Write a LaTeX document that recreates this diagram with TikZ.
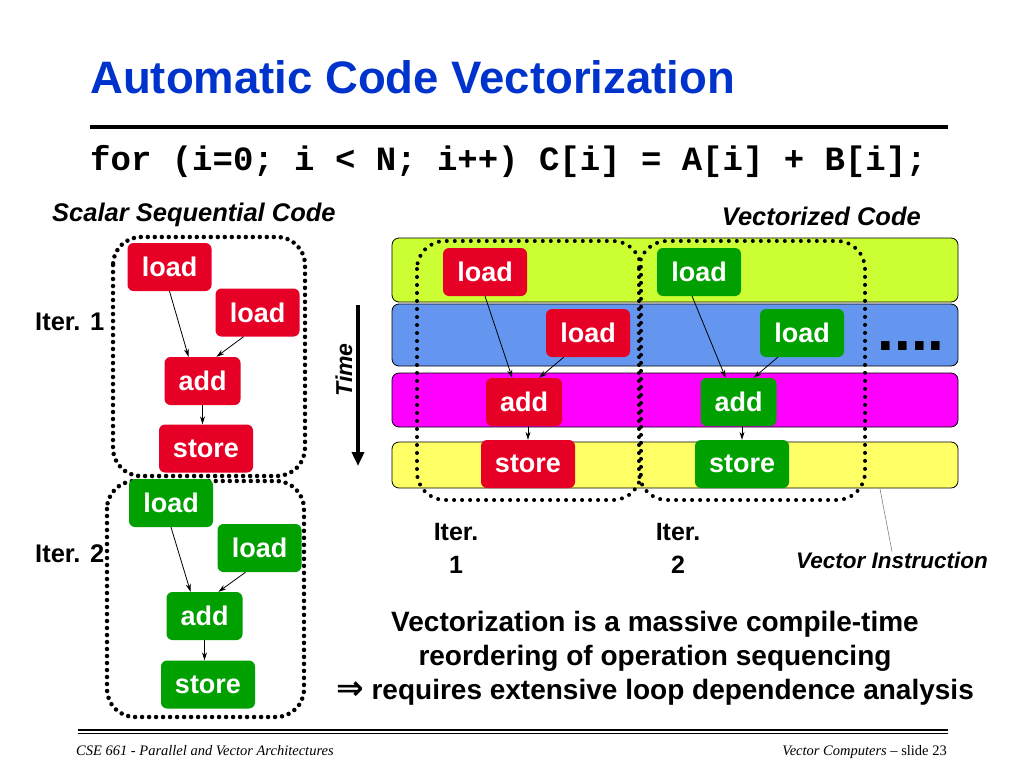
\documentclass[tikz,border=0pt]{standalone}
\usepackage{fontspec}
\setmainfont{Liberation Sans}
\setmonofont{Liberation Mono}
\newfontfamily\footfont{Liberation Serif}
\newfontfamily\arrowfont{DejaVu Sans}
\usetikzlibrary{arrows.meta}
\definecolor{titleblue}{RGB}{0,51,204}
\definecolor{opred}{RGB}{230,0,38}
\definecolor{opgreen}{RGB}{0,160,0}
\definecolor{bandlime}{RGB}{204,255,51}
\definecolor{bandblue}{RGB}{100,150,240}
\definecolor{bandmagenta}{RGB}{255,0,255}
\definecolor{bandyellow}{RGB}{255,255,102}
\newcommand{\fsz}[1]{\fontsize{#1}{#1}\selectfont}
\begin{document}
\begin{tikzpicture}[x=1pt,y=-1pt,
  op/.style={rounded corners=6pt,inner sep=0pt,minimum height=48pt,text=white,font=\fsz{27}\bfseries},
  ld/.style={op,minimum width=84pt},
  ad/.style={op,minimum width=76pt},
  st/.style={op,minimum width=94pt},
  redop/.style={fill=opred},
  greenop/.style={fill=opgreen},
  band/.style={draw=black,line width=0.8pt,rounded corners=7pt},
  iterbox/.style={line width=4.5pt,dash pattern=on 0pt off 7pt,line cap=round,rounded corners=28pt},
  dep/.style={->,>={Stealth[length=8pt,width=5pt]},line width=0.8pt},
  lbl/.style={inner sep=0pt,anchor=base,font=\fsz{25}\bfseries}]
\useasboundingbox (0,0) rectangle (1024,768);
% heading
\node[anchor=base west,inner sep=0pt,text=titleblue,font=\fsz{45.5}\bfseries] (title) at (90,93) {Automatic Code Vectorization};
\draw[line width=4pt] (90,127) -- (948,127);
\node[anchor=base west,inner sep=0pt,font=\fsz{34}\ttfamily\bfseries] (code) at (90,170) {for (i=0; i < N; i++) C[i] = A[i] + B[i];};
\node[anchor=base west,inner sep=0pt,font=\fsz{25.5}\bfseries\itshape] (scalar) at (52,221) {Scalar Sequential Code};
\node[anchor=base east,inner sep=0pt,font=\fsz{25.5}\bfseries\itshape] (vect) at (921,225) {Vectorized Code};
% instruction bands
\draw[band,fill=bandlime] (392,238) rectangle (958,302);
\draw[band,fill=bandblue] (392,304) rectangle (958,366);
\draw[band,fill=bandmagenta] (392,373) rectangle (958,427);
\draw[band,fill=bandyellow] (392,442) rectangle (958,488);
% iterations
\draw[iterbox] (113,237) rectangle (305,476);
\draw[iterbox] (107,481) rectangle (304,717);
\draw[iterbox,line width=4pt,dash pattern=on 0pt off 8pt] (417,241) rectangle (641,500);
\draw[iterbox,line width=4pt,dash pattern=on 0pt off 8pt] (639,241) rectangle (865,500);
% scalar code
\node[ld,redop] (sl1) at (169.5,267) {load};
\node[ld,redop] (sl2) at (257.5,312.5) {load};
\node[ad,redop] (sa1) at (202.5,381) {add};
\node[st,redop] (ss1) at (206,448.5) {store};
\node[ld,greenop] (sl3) at (171,503) {load};
\node[ld,greenop] (sl4) at (259.5,548) {load};
\node[ad,greenop] (sa2) at (204.5,616) {add};
\node[st,greenop] (ss2) at (208,684.5) {store};
\draw[dep] (sl1.south) -- (sa1.120);
\draw[dep] (sl2.-120) -- (sa1.60);
\draw[dep] (sa1.south) -- (sa1.south |- ss1.north);
\draw[dep] (sl3.south) -- (sa2.120);
\draw[dep] (sl4.-120) -- (sa2.60);
\draw[dep] (sa2.south) -- (sa2.south |- ss2.north);
\node[anchor=base west,inner sep=0pt,font=\fsz{25.5}\bfseries] (it1) at (35,330) {Iter. 1};
\node[anchor=base west,inner sep=0pt,font=\fsz{25.5}\bfseries] (it2) at (35,562) {Iter. 2};
% vector code
\node[ld,redop] (vl1) at (485,272) {load};
\node[ld,redop] (vl2) at (588,333) {load};
\node[ad,redop] (va1) at (524,402) {add};
\node[st,redop] (vs1) at (528,464) {store};
\node[ld,greenop] (vl3) at (699,272) {load};
\node[ld,greenop] (vl4) at (802,333) {load};
\node[ad,greenop] (va2) at (738.5,402) {add};
\node[st,greenop] (vs2) at (742,464) {store};
\draw[dep] (vl1.south) -- (va1.116);
\draw[dep] (vl2.-135) -- (va1.58);
\draw[dep] (vs1.north |- va1.south) -- (vs1.north);
\draw[dep] (vl3.-106) -- (va2.118);
\draw[dep] (vl4.-135) -- (va2.58);
\draw[dep] (vs2.north |- va2.south) -- (vs2.north);
\node[anchor=base,inner sep=0pt,font=\fsz{60}\bfseries] (more) at (911,350) {....};
% time axis
\coordinate (t0) at (358,305);
\coordinate (t1) at (358,466);
\draw[line width=4pt,-{Triangle[length=14pt,width=12pt]}] (t0) -- (t1);
\node[rotate=90,inner sep=0pt,font=\fsz{23}\bfseries\itshape] (time) at (344,370) {Time};
\node[lbl] (vi1) at (456,540) {Iter.};
\node[lbl] (vn1) at (456,573) {1};
\node[lbl] (vi2) at (678,540) {Iter.};
\node[lbl] (vn2) at (678,573) {2};
\node[anchor=base,inner sep=0pt,font=\fsz{22.5}\bfseries\itshape] (vinstr) at (892,568) {Vector Instruction};
\coordinate (vband) at (880,489);
\draw[gray,line width=0.6pt] (vband) -- (vinstr.north);
% conclusion
\node[anchor=base,inner sep=0pt,font=\fsz{28}\bfseries] (msg1) at (655,631) {Vectorization is a massive compile-time};
\node[anchor=base,inner sep=0pt,font=\fsz{28}\bfseries] (msg2) at (655,665) {reordering of operation sequencing};
\node[anchor=base,inner sep=0pt,font=\fsz{28}\bfseries] (msg3) at (655,699) {{\arrowfont\fsz{33}⇒} requires extensive loop dependence analysis};
% footer
\draw[line width=2pt] (78,730) -- (948,730);
\draw[line width=1.5pt] (78,733.5) -- (948,733.5);
\node[anchor=base west,inner sep=0pt,font=\footfont\fsz{14.5}\itshape] (footl) at (76,755) {CSE 661 - Parallel and Vector Architectures};
\node[anchor=base east,inner sep=0pt,font=\footfont\fsz{14.5}] (footr) at (947,755) {\itshape Vector Computers\/ \upshape – slide 23};
\end{tikzpicture}
\end{document}
